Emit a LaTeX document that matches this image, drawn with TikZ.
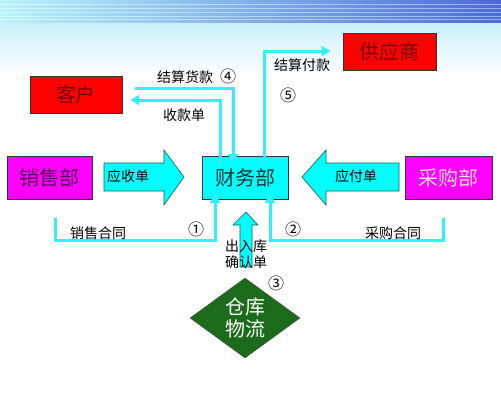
\documentclass[tikz,border=0pt]{standalone}
\usepackage{fontspec}
\setmainfont{Noto Sans CJK SC}
\usetikzlibrary{arrows.meta,shapes.geometric}
\definecolor{flowc}{HTML}{33F0F8}
\definecolor{cyanbox}{HTML}{00FFFF}
\definecolor{redbox}{HTML}{FF0000}
\definecolor{magbox}{HTML}{FF00FF}
\definecolor{dgreen}{HTML}{1B6B1B}
\definecolor{outl}{HTML}{1F5F4F}
\definecolor{bandl}{HTML}{B8F4FC}
\definecolor{bandm}{HTML}{40DCF8}
\definecolor{bandr}{HTML}{4A6AD8}
\definecolor{fadec}{HTML}{C8F0FC}
\tikzset{
  box/.style={draw=black!80, line width=0.8pt, minimum width=#1, inner sep=0pt, font=\fontsize{20}{22}\selectfont},
  lbl/.style={font=\fontsize{14}{16}\selectfont, inner sep=0pt},
  num/.style={font=\fontsize{16}{16}\selectfont, inner sep=0pt},
  flow/.style={draw=flowc, line width=3pt, -{Triangle[length=9pt,width=10pt]}},
  blockarrow/.style={fill=cyanbox, draw=outl, line width=0.6pt}
}
\begin{document}
\begin{tikzpicture}[x=1pt,y=-1pt]
\useasboundingbox (0,0) rectangle (501,400);
% background
\fill[white] (0,0) rectangle (501,400);
\shade[top color=fadec, bottom color=white] (0,22) rectangle (501,75);
\shade[left color=bandl, middle color=bandm, right color=bandr] (0,0) rectangle (501,22);
\foreach \yy in {4,8,12,16,19} {\draw[white, opacity=0.45, line width=0.6pt] (0,\yy) -- (501,\yy);}
% nodes
\node[box=92pt, minimum height=37pt, fill=redbox, text=red!45!black] (kh) at (76,94.5) {客户};
\node[box=93pt, minimum height=37pt, fill=redbox, text=red!45!black] (gys) at (389.5,51.5) {供应商};
\node[box=85pt, minimum height=43pt, fill=magbox, text=violet!70!black] (xs) at (49.5,178) {销售部};
\node[box=87pt, minimum height=43pt, fill=magbox, text=magenta!15!white] (cg) at (448.5,178) {采购部};
\node[box=86pt, minimum height=43pt, fill=cyanbox, text=teal!40!black] (cw) at (245,178) {财务部};
\node[diamond, draw=black!70, fill=dgreen, minimum width=110pt, minimum height=80pt, inner sep=0pt, aspect=1.375, text=white, font=\fontsize{20}{24}\selectfont, align=center] (ck) at (245,318) {仓库\\[-2pt]物流};
% block arrows
\fill[blockarrow] (104,163) -- (164,163) -- (164,150) -- (184,177) -- (164,205) -- (164,191) -- (104,191) -- cycle;
\node[lbl] (ysd) at (128,176) {应收单};
\fill[blockarrow] (399,163) -- (326,163) -- (326,150) -- (302,177) -- (326,205) -- (326,191) -- (399,191) -- cycle;
\node[lbl] (yfd) at (356,176) {应付单};
\fill[blockarrow] (240,267) -- (240,225) -- (233,225) -- (246,212) -- (258,225) -- (252,225) -- (252,267) -- cycle;
\node[lbl, align=center] (crk) at (246,254) {出入库\\确认单};
% coordinates for connectors
\coordinate (a1) at (55,218);
\coordinate (a2) at (55,240);
\coordinate (a3) at (215,240);
\coordinate (b1) at (443,218);
\coordinate (b2) at (443,240);
\coordinate (b3) at (270,240);
\coordinate (c1) at (135,88);
\coordinate (c2) at (233,88);
\coordinate (d1) at (220,100);
\coordinate (e1) at (264,51);
% thin flows
\draw[flow] (a1) -- (a2) -- (a3) -- ([yshift=6pt]a3 |- cw.south);
\draw[flow] (b1) -- (b2) -- (b3) -- ([yshift=6pt]b3 |- cw.south);
\draw[flow] (c1) -- (c2) -- ([yshift=-7pt]c2 |- cw.north);
\draw[flow] ([yshift=-8pt]d1 |- cw.north) -- (d1) -- ([xshift=8pt]kh.east |- d1);
\draw[flow] ([yshift=-8pt]e1 |- cw.north) -- (e1) -- ([xshift=-12pt]gys.west |- e1);
% labels
\node[lbl] (l1) at (185,77) {结算货款};
\node[num] (n4) at (228,76) {④};
\node[lbl] (l2) at (184,115) {收款单};
\node[lbl] (l3) at (302,65) {结算付款};
\node[num] (n5) at (288,95) {⑤};
\node[lbl] (l4) at (98,233) {销售合同};
\node[num] (n1) at (196,229) {①};
\node[num] (n2) at (293,229) {②};
\node[lbl] (l5) at (393,233) {采购合同};
\node[num] (n3) at (276,283) {③};
\end{tikzpicture}
\end{document}
